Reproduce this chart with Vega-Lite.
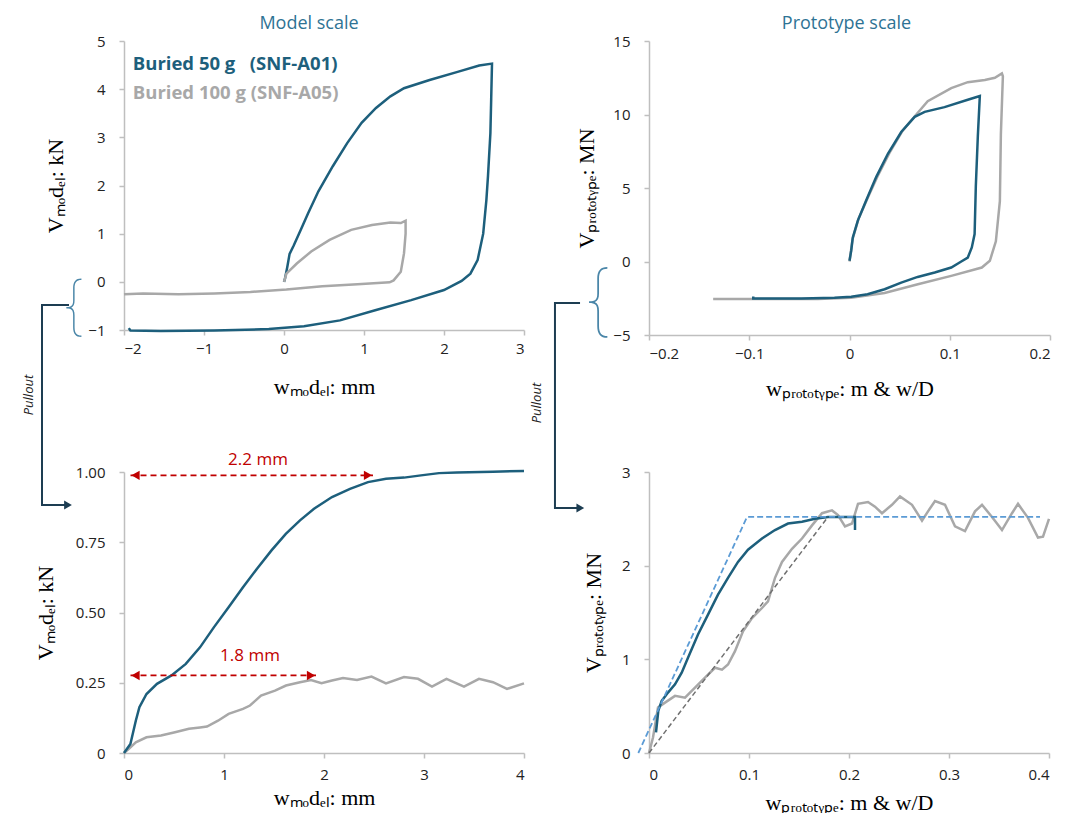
{
  "$schema": "https://vega.github.io/schema/vega-lite/v6.json",
  "background": "white",
  "padding": {"left": 22, "top": 15, "right": 0, "bottom": 0},
  "bounds": "flush",
  "columns": 2,
  "spacing": {"row": 137, "column": 125},
  "datasets": {
    "tl": [
      {"s":"A01","i":0,"x":0.00,"y":0.00},{"s":"A01","i":1,"x":0.01,"y":0.05},{"s":"A01","i":2,"x":0.04,"y":0.30},{"s":"A01","i":3,"x":0.07,"y":0.58},{"s":"A01","i":4,"x":0.12,"y":0.75},{"s":"A01","i":5,"x":0.21,"y":1.08},{"s":"A01","i":6,"x":0.30,"y":1.42},{"s":"A01","i":7,"x":0.43,"y":1.88},{"s":"A01","i":8,"x":0.61,"y":2.40},{"s":"A01","i":9,"x":0.79,"y":2.88},{"s":"A01","i":10,"x":0.97,"y":3.30},{"s":"A01","i":11,"x":1.15,"y":3.61},{"s":"A01","i":12,"x":1.33,"y":3.85},{"s":"A01","i":13,"x":1.50,"y":4.02},{"s":"A01","i":14,"x":1.82,"y":4.19},{"s":"A01","i":15,"x":2.17,"y":4.36},{"s":"A01","i":16,"x":2.44,"y":4.49},{"s":"A01","i":17,"x":2.60,"y":4.53},{"s":"A01","i":18,"x":2.59,"y":3.80},{"s":"A01","i":19,"x":2.58,"y":3.09},{"s":"A01","i":20,"x":2.55,"y":2.20},{"s":"A01","i":21,"x":2.53,"y":1.70},{"s":"A01","i":22,"x":2.49,"y":1.00},{"s":"A01","i":23,"x":2.42,"y":0.45},{"s":"A01","i":24,"x":2.33,"y":0.17},{"s":"A01","i":25,"x":2.22,"y":0.02},{"s":"A01","i":26,"x":2.00,"y":-0.17},{"s":"A01","i":27,"x":1.59,"y":-0.38},{"s":"A01","i":28,"x":1.14,"y":-0.59},{"s":"A01","i":29,"x":0.70,"y":-0.80},{"s":"A01","i":30,"x":0.25,"y":-0.92},{"s":"A01","i":31,"x":-0.19,"y":-0.98},{"s":"A01","i":32,"x":-0.87,"y":-1.01},{"s":"A01","i":33,"x":-1.54,"y":-1.02},{"s":"A01","i":34,"x":-1.92,"y":-1.01},{"s":"A01","i":35,"x":-1.94,"y":-0.96},
      {"s":"A05","i":0,"x":0.00,"y":0.00},{"s":"A05","i":1,"x":0.03,"y":0.17},{"s":"A05","i":2,"x":0.16,"y":0.38},{"s":"A05","i":3,"x":0.34,"y":0.63},{"s":"A05","i":4,"x":0.57,"y":0.87},{"s":"A05","i":5,"x":0.84,"y":1.08},{"s":"A05","i":6,"x":1.10,"y":1.18},{"s":"A05","i":7,"x":1.33,"y":1.23},{"s":"A05","i":8,"x":1.46,"y":1.22},{"s":"A05","i":9,"x":1.52,"y":1.27},{"s":"A05","i":10,"x":1.52,"y":1.00},{"s":"A05","i":11,"x":1.50,"y":0.59},{"s":"A05","i":12,"x":1.46,"y":0.21},{"s":"A05","i":13,"x":1.37,"y":0.03},{"s":"A05","i":14,"x":1.32,"y":-0.01},{"s":"A05","i":15,"x":0.92,"y":-0.05},{"s":"A05","i":16,"x":0.48,"y":-0.09},{"s":"A05","i":17,"x":0.03,"y":-0.16},{"s":"A05","i":18,"x":-0.42,"y":-0.21},{"s":"A05","i":19,"x":-0.87,"y":-0.24},{"s":"A05","i":20,"x":-1.32,"y":-0.26},{"s":"A05","i":21,"x":-1.76,"y":-0.24},{"s":"A05","i":22,"x":-2.00,"y":-0.26}
    ],
    "tr": [
      {"s":"A05","i":0,"x":0.000,"y":0.0},{"s":"A05","i":1,"x":0.003,"y":1.5},{"s":"A05","i":2,"x":0.009,"y":2.9},{"s":"A05","i":3,"x":0.018,"y":4.3},{"s":"A05","i":4,"x":0.028,"y":5.8},{"s":"A05","i":5,"x":0.040,"y":7.4},{"s":"A05","i":6,"x":0.053,"y":8.9},{"s":"A05","i":7,"x":0.066,"y":9.95},{"s":"A05","i":8,"x":0.078,"y":10.9},{"s":"A05","i":9,"x":0.1015,"y":11.8},{"s":"A05","i":10,"x":0.118,"y":12.2},{"s":"A05","i":11,"x":0.135,"y":12.35},{"s":"A05","i":12,"x":0.145,"y":12.5},{"s":"A05","i":13,"x":0.152,"y":12.8},{"s":"A05","i":14,"x":0.153,"y":12.6},{"s":"A05","i":15,"x":0.151,"y":8.66},{"s":"A05","i":16,"x":0.150,"y":4.1},{"s":"A05","i":17,"x":0.146,"y":1.37},{"s":"A05","i":18,"x":0.140,"y":0.05},{"s":"A05","i":19,"x":0.132,"y":-0.41},{"s":"A05","i":20,"x":0.1015,"y":-0.98},{"s":"A05","i":21,"x":0.0682,"y":-1.55},{"s":"A05","i":22,"x":0.035,"y":-2.14},{"s":"A05","i":23,"x":0.0017,"y":-2.46},{"s":"A05","i":24,"x":-0.0316,"y":-2.55},{"s":"A05","i":25,"x":-0.065,"y":-2.55},{"s":"A05","i":26,"x":-0.100,"y":-2.55},{"s":"A05","i":27,"x":-0.136,"y":-2.55},
      {"s":"A01","i":0,"x":0.000,"y":0.05},{"s":"A01","i":1,"x":0.0017,"y":0.73},{"s":"A01","i":2,"x":0.0033,"y":1.64},{"s":"A01","i":3,"x":0.0083,"y":2.78},{"s":"A01","i":4,"x":0.0166,"y":4.15},{"s":"A01","i":5,"x":0.0266,"y":5.74},{"s":"A01","i":6,"x":0.0383,"y":7.33},{"s":"A01","i":7,"x":0.0516,"y":8.81},{"s":"A01","i":8,"x":0.065,"y":9.84},{"s":"A01","i":9,"x":0.075,"y":10.18},{"s":"A01","i":10,"x":0.0948,"y":10.5},{"s":"A01","i":11,"x":0.118,"y":11.0},{"s":"A01","i":12,"x":0.130,"y":11.26},{"s":"A01","i":13,"x":0.128,"y":8.5},{"s":"A01","i":14,"x":0.126,"y":5.1},{"s":"A01","i":15,"x":0.1248,"y":1.87},{"s":"A01","i":16,"x":0.122,"y":0.96},{"s":"A01","i":17,"x":0.118,"y":0.27},{"s":"A01","i":18,"x":0.1115,"y":0.0},{"s":"A01","i":19,"x":0.1015,"y":-0.41},{"s":"A01","i":20,"x":0.085,"y":-0.75},{"s":"A01","i":21,"x":0.068,"y":-1.05},{"s":"A01","i":22,"x":0.0516,"y":-1.44},{"s":"A01","i":23,"x":0.035,"y":-1.89},{"s":"A01","i":24,"x":0.018,"y":-2.23},{"s":"A01","i":25,"x":0.0017,"y":-2.39},{"s":"A01","i":26,"x":-0.015,"y":-2.46},{"s":"A01","i":27,"x":-0.048,"y":-2.51},{"s":"A01","i":28,"x":-0.081,"y":-2.51},{"s":"A01","i":29,"x":-0.096,"y":-2.51},{"s":"A01","i":30,"x":-0.096,"y":-2.38}
    ],
    "bl": [
      {"s":"A05","i":0,"x":0.0,"y":0.0},{"s":"A05","i":1,"x":0.046,"y":0.014},{"s":"A05","i":2,"x":0.118,"y":0.038},{"s":"A05","i":3,"x":0.225,"y":0.056},{"s":"A05","i":4,"x":0.37,"y":0.062},{"s":"A05","i":5,"x":0.51,"y":0.074},{"s":"A05","i":6,"x":0.65,"y":0.086},{"s":"A05","i":7,"x":0.76,"y":0.091},{"s":"A05","i":8,"x":0.83,"y":0.094},{"s":"A05","i":9,"x":0.94,"y":0.115},{"s":"A05","i":10,"x":1.046,"y":0.139},{"s":"A05","i":11,"x":1.19,"y":0.157},{"s":"A05","i":12,"x":1.26,"y":0.169},{"s":"A05","i":13,"x":1.37,"y":0.204},{"s":"A05","i":14,"x":1.51,"y":0.222},{"s":"A05","i":15,"x":1.62,"y":0.24},{"s":"A05","i":16,"x":1.76,"y":0.252},{"s":"A05","i":17,"x":1.87,"y":0.26},{"s":"A05","i":18,"x":1.975,"y":0.248},{"s":"A05","i":19,"x":2.08,"y":0.258},{"s":"A05","i":20,"x":2.19,"y":0.267},{"s":"A05","i":21,"x":2.33,"y":0.26},{"s":"A05","i":22,"x":2.475,"y":0.272},{"s":"A05","i":23,"x":2.62,"y":0.248},{"s":"A05","i":24,"x":2.8,"y":0.27},{"s":"A05","i":25,"x":2.94,"y":0.264},{"s":"A05","i":26,"x":3.08,"y":0.236},{"s":"A05","i":27,"x":3.225,"y":0.264},{"s":"A05","i":28,"x":3.4,"y":0.236},{"s":"A05","i":29,"x":3.55,"y":0.264},{"s":"A05","i":30,"x":3.69,"y":0.252},{"s":"A05","i":31,"x":3.83,"y":0.228},{"s":"A05","i":32,"x":4.0,"y":0.248},
      {"s":"A01","i":0,"x":0.0,"y":0.0},{"s":"A01","i":1,"x":0.064,"y":0.032},{"s":"A01","i":2,"x":0.118,"y":0.115},{"s":"A01","i":3,"x":0.154,"y":0.163},{"s":"A01","i":4,"x":0.225,"y":0.21},{"s":"A01","i":5,"x":0.33,"y":0.246},{"s":"A01","i":6,"x":0.475,"y":0.276},{"s":"A01","i":7,"x":0.618,"y":0.317},{"s":"A01","i":8,"x":0.76,"y":0.376},{"s":"A01","i":9,"x":0.9,"y":0.448},{"s":"A01","i":10,"x":1.046,"y":0.519},{"s":"A01","i":11,"x":1.19,"y":0.59},{"s":"A01","i":12,"x":1.33,"y":0.656},{"s":"A01","i":13,"x":1.475,"y":0.721},{"s":"A01","i":14,"x":1.618,"y":0.78},{"s":"A01","i":15,"x":1.76,"y":0.828},{"s":"A01","i":16,"x":1.9,"y":0.869},{"s":"A01","i":17,"x":2.08,"y":0.911},{"s":"A01","i":18,"x":2.26,"y":0.94},{"s":"A01","i":19,"x":2.44,"y":0.964},{"s":"A01","i":20,"x":2.62,"y":0.976},{"s":"A01","i":21,"x":2.8,"y":0.98},{"s":"A01","i":22,"x":2.97,"y":0.988},{"s":"A01","i":23,"x":3.15,"y":0.996},{"s":"A01","i":24,"x":3.33,"y":0.998},{"s":"A01","i":25,"x":3.69,"y":1.001},{"s":"A01","i":26,"x":4.0,"y":1.004}
    ],
    "br": [
      {"s":"A05","i":0,"x":0.0,"y":0.0},{"s":"A05","i":1,"x":0.004,"y":0.166},{"s":"A05","i":2,"x":0.009,"y":0.485},{"s":"A05","i":3,"x":0.016,"y":0.538},{"s":"A05","i":4,"x":0.026,"y":0.61},{"s":"A05","i":5,"x":0.036,"y":0.59},{"s":"A05","i":6,"x":0.046,"y":0.698},{"s":"A05","i":7,"x":0.056,"y":0.804},{"s":"A05","i":8,"x":0.066,"y":0.91},{"s":"A05","i":9,"x":0.073,"y":0.89},{"s":"A05","i":10,"x":0.079,"y":0.945},{"s":"A05","i":11,"x":0.086,"y":1.087},{"s":"A05","i":12,"x":0.094,"y":1.3},{"s":"A05","i":13,"x":0.103,"y":1.44},{"s":"A05","i":14,"x":0.113,"y":1.548},{"s":"A05","i":15,"x":0.119,"y":1.62},{"s":"A05","i":16,"x":0.126,"y":1.87},{"s":"A05","i":17,"x":0.133,"y":2.04},{"s":"A05","i":18,"x":0.143,"y":2.18},{"s":"A05","i":19,"x":0.153,"y":2.29},{"s":"A05","i":20,"x":0.163,"y":2.43},{"s":"A05","i":21,"x":0.173,"y":2.56},{"s":"A05","i":22,"x":0.183,"y":2.59},{"s":"A05","i":23,"x":0.189,"y":2.54},{"s":"A05","i":24,"x":0.196,"y":2.42},{"s":"A05","i":25,"x":0.203,"y":2.45},{"s":"A05","i":26,"x":0.209,"y":2.66},{"s":"A05","i":27,"x":0.219,"y":2.68},{"s":"A05","i":28,"x":0.226,"y":2.63},{"s":"A05","i":29,"x":0.233,"y":2.56},{"s":"A05","i":30,"x":0.243,"y":2.65},{"s":"A05","i":31,"x":0.251,"y":2.74},{"s":"A05","i":32,"x":0.263,"y":2.65},{"s":"A05","i":33,"x":0.273,"y":2.48},{"s":"A05","i":34,"x":0.279,"y":2.58},{"s":"A05","i":35,"x":0.286,"y":2.69},{"s":"A05","i":36,"x":0.296,"y":2.65},{"s":"A05","i":37,"x":0.306,"y":2.42},{"s":"A05","i":38,"x":0.316,"y":2.37},{"s":"A05","i":39,"x":0.326,"y":2.58},{"s":"A05","i":40,"x":0.333,"y":2.65},{"s":"A05","i":41,"x":0.343,"y":2.52},{"s":"A05","i":42,"x":0.353,"y":2.38},{"s":"A05","i":43,"x":0.363,"y":2.56},{"s":"A05","i":44,"x":0.369,"y":2.66},{"s":"A05","i":45,"x":0.379,"y":2.51},{"s":"A05","i":46,"x":0.389,"y":2.3},{"s":"A05","i":47,"x":0.394,"y":2.31},{"s":"A05","i":48,"x":0.400,"y":2.5},
      {"s":"A01","i":0,"x":0.007,"y":0.22},{"s":"A01","i":1,"x":0.0093,"y":0.45},{"s":"A01","i":2,"x":0.0127,"y":0.556},{"s":"A01","i":3,"x":0.019,"y":0.645},{"s":"A01","i":4,"x":0.026,"y":0.733},{"s":"A01","i":5,"x":0.0327,"y":0.857},{"s":"A01","i":6,"x":0.039,"y":1.017},{"s":"A01","i":7,"x":0.049,"y":1.265},{"s":"A01","i":8,"x":0.059,"y":1.477},{"s":"A01","i":9,"x":0.069,"y":1.69},{"s":"A01","i":10,"x":0.079,"y":1.87},{"s":"A01","i":11,"x":0.089,"y":2.04},{"s":"A01","i":12,"x":0.099,"y":2.17},{"s":"A01","i":13,"x":0.113,"y":2.29},{"s":"A01","i":14,"x":0.126,"y":2.38},{"s":"A01","i":15,"x":0.139,"y":2.45},{"s":"A01","i":16,"x":0.153,"y":2.47},{"s":"A01","i":17,"x":0.166,"y":2.5},{"s":"A01","i":18,"x":0.179,"y":2.52},{"s":"A01","i":19,"x":0.206,"y":2.52},{"s":"A01","i":20,"x":0.206,"y":2.38}
    ]
  },
  "concat": [
    {
      "width": 400, "height": 289,
      "title": {"text": "Model scale", "anchor": "middle", "frame": "group", "dx": -15, "offset": 1, "color": "#2E7394", "font": "Open Sans", "fontSize": 18, "fontWeight": "normal"},
      "encoding": {
        "x": {"field": "x", "type": "quantitative", "scale": {"domain": [-2, 3], "nice": false, "zero": false},
              "axis": {"values": [-2, -1, 0, 1, 2, 3], "format": "d", "title": "wₘₒdₑₗ: mm", "labelPadding": 6, "titlePadding": 20}},
        "y": {"field": "y", "type": "quantitative", "scale": {"domain": [-1, 5], "nice": false, "zero": false},
              "axis": {"values": [-1, 0, 1, 2, 3, 4, 5], "format": "d", "title": "Vₘₒdₑₗ: kN", "labelPadding": 14, "titlePadding": 20}}
      },
      "layer": [
        {"data": {"name": "tl"}, "mark": {"type": "line", "strokeWidth": 2.5},
         "encoding": {"color": {"field": "s", "type": "nominal", "scale": {"domain": ["A01", "A05"], "range": ["#1D5F7C", "#A8A8A8"]}, "legend": null},
                      "order": {"field": "i", "type": "quantitative"}}},
        {"data": {"values": [{"i": 0, "x": -2.6875, "y": -0.481}, {"i": 1, "x": -3.025, "y": -0.481}, {"i": 2, "x": -3.025, "y": -4.633}, {"i": 3, "x": -2.72, "y": -4.633}]},
         "mark": {"type": "line", "color": "#1D3D52", "strokeWidth": 2},
         "encoding": {"order": {"field": "i", "type": "quantitative"}}},
        {"data": {"values": [{"x": -2.7, "y": -4.633}]},
         "mark": {"type": "point", "shape": "triangle-right", "filled": true, "size": 80, "color": "#1D3D52", "opacity": 1}},
        {"data": {"values": [{"x": -2.63, "y": -0.56, "t": "{"}]},
         "mark": {"type": "text", "font": "Inter", "fontWeight": 100, "fontSize": 64, "color": "#4A86A8", "baseline": "middle", "align": "center"},
         "encoding": {"text": {"field": "t"}}},
        {"data": {"values": [{"x": -3.19, "y": -2.35, "t": "Pullout"}]},
         "mark": {"type": "text", "angle": 270, "fontStyle": "italic", "font": "Open Sans", "fontSize": 13, "color": "#222222", "baseline": "middle", "align": "center"},
         "encoding": {"text": {"field": "t"}}},
        {"data": {"values": [{"x": -1.89, "y": 4.52, "s": "A01", "t": "Buried 50 g\u00a0\u00a0 (SNF-A01)"}, {"x": -1.89, "y": 3.92, "s": "A05", "t": "Buried 100 g (SNF-A05)"}]},
         "mark": {"type": "text", "font": "Open Sans", "fontSize": 18.5, "fontWeight": "bold", "align": "left", "baseline": "middle"},
         "encoding": {"text": {"field": "t"}, "color": {"field": "s", "type": "nominal", "scale": {"domain": ["A01", "A05"], "range": ["#1D5F7C", "#A8A8A8"]}, "legend": null}}}
      ]
    },
    {
      "width": 401, "height": 294,
      "title": {"text": "Prototype scale", "anchor": "middle", "frame": "group", "dx": -3, "offset": 1, "color": "#2E7394", "font": "Open Sans", "fontSize": 18, "fontWeight": "normal"},
      "encoding": {
        "x": {"field": "x", "type": "quantitative", "scale": {"domain": [-0.2, 0.2], "nice": false, "zero": false},
              "axis": {"values": [-0.2, -0.1, 0, 0.1, 0.2], "format": ".1~f", "title": "wₚᵣₒₜₒₜᵧₚₑ: m & w/D", "labelPadding": 6, "titlePadding": 17}},
        "y": {"field": "y", "type": "quantitative", "scale": {"domain": [-5, 15], "nice": false, "zero": false},
              "axis": {"values": [-5, 0, 5, 10, 15], "format": "d", "title": "Vₚᵣₒₜₒₜᵧₚₑ: MN", "labelPadding": 14, "titlePadding": 14}}
      },
      "layer": [
        {"data": {"name": "tr"}, "mark": {"type": "line", "strokeWidth": 2.5},
         "encoding": {"color": {"field": "s", "type": "nominal", "scale": {"domain": ["A01", "A05"], "range": ["#1D5F7C", "#A8A8A8"]}, "legend": null},
                      "order": {"field": "i", "type": "quantitative"}}},
        {"data": {"values": [{"i": 0, "x": -0.2688, "y": -2.82}, {"i": 1, "x": -0.2938, "y": -2.82}, {"i": 2, "x": -0.2938, "y": -16.77}, {"i": 3, "x": -0.2705, "y": -16.77}]},
         "mark": {"type": "line", "color": "#1D3D52", "strokeWidth": 2},
         "encoding": {"order": {"field": "i", "type": "quantitative"}}},
        {"data": {"values": [{"x": -0.2685, "y": -16.77}]},
         "mark": {"type": "point", "shape": "triangle-right", "filled": true, "size": 80, "color": "#1D3D52", "opacity": 1}},
        {"data": {"values": [{"x": -0.251, "y": -2.9, "t": "{"}]},
         "mark": {"type": "text", "font": "Inter", "fontWeight": 100, "fontSize": 78, "color": "#4A86A8", "baseline": "middle", "align": "center"},
         "encoding": {"text": {"field": "t"}}},
        {"data": {"values": [{"x": -0.3117, "y": -9.63, "t": "Pullout"}]},
         "mark": {"type": "text", "angle": 270, "fontStyle": "italic", "font": "Open Sans", "fontSize": 13, "color": "#222222", "baseline": "middle", "align": "center"},
         "encoding": {"text": {"field": "t"}}}
      ]
    },
    {
      "width": 400, "height": 281,
      "encoding": {
        "x": {"field": "x", "type": "quantitative", "scale": {"domain": [0, 4], "nice": false, "zero": false},
              "axis": {"values": [0, 1, 2, 3, 4], "format": "d", "title": "wₘₒdₑₗ: mm", "labelPadding": 9, "titlePadding": 5}},
        "y": {"field": "y", "type": "quantitative", "scale": {"domain": [0, 1], "nice": false, "zero": false},
              "axis": {"values": [0, 0.25, 0.5, 0.75, 1], "labelExpr": "datum.value == 0 ? '0' : format(datum.value, '.2f')", "title": "Vₘₒdₑₗ: kN", "labelPadding": 14, "titlePadding": 18}}
      },
      "layer": [
        {"data": {"name": "bl"}, "mark": {"type": "line", "strokeWidth": 2.5},
         "encoding": {"color": {"field": "s", "type": "nominal", "scale": {"domain": ["A01", "A05"], "range": ["#1D5F7C", "#A8A8A8"]}, "legend": null},
                      "order": {"field": "i", "type": "quantitative"}}},
        {"data": {"values": [{"x": 0.065, "x2": 2.49, "y": 0.988}, {"x": 0.065, "x2": 1.92, "y": 0.276}]},
         "mark": {"type": "rule", "color": "#C00000", "strokeWidth": 1.8, "strokeDash": [6, 4]},
         "encoding": {"x2": {"field": "x2"}}},
        {"data": {"values": [{"x": 0.115, "y": 0.988}, {"x": 0.115, "y": 0.276}]},
         "mark": {"type": "point", "shape": "triangle-left", "filled": true, "size": 90, "color": "#C00000", "opacity": 1}},
        {"data": {"values": [{"x": 2.44, "y": 0.988}, {"x": 1.87, "y": 0.276}]},
         "mark": {"type": "point", "shape": "triangle-right", "filled": true, "size": 90, "color": "#C00000", "opacity": 1}},
        {"data": {"values": [{"x": 1.34, "y": 1.043, "t": "2.2 mm"}, {"x": 1.26, "y": 0.346, "t": "1.8 mm"}]},
         "mark": {"type": "text", "font": "Open Sans", "fontSize": 17, "color": "#C00000", "baseline": "middle", "align": "center"},
         "encoding": {"text": {"field": "t"}}}
      ]
    },
    {
      "width": 400, "height": 281,
      "encoding": {
        "x": {"field": "x", "type": "quantitative", "scale": {"domain": [0, 0.4], "nice": false, "zero": false},
              "axis": {"values": [0, 0.1, 0.2, 0.3, 0.4], "labelExpr": "datum.value == 0 ? '0' : format(datum.value, '.1f')", "title": "wₚᵣₒₜₒₜᵧₚₑ: m & w/D", "labelPadding": 9, "titlePadding": 10}},
        "y": {"field": "y", "type": "quantitative", "scale": {"domain": [0, 3], "nice": false, "zero": false},
              "axis": {"values": [0, 1, 2, 3], "format": "d", "title": "Vₚᵣₒₜₒₜᵧₚₑ: MN", "labelPadding": 14, "titlePadding": 16}}
      },
      "layer": [
        {"data": {"name": "br"}, "mark": {"type": "line", "strokeWidth": 2.5},
         "encoding": {"color": {"field": "s", "type": "nominal", "scale": {"domain": ["A01", "A05"], "range": ["#1D5F7C", "#A8A8A8"]}, "legend": null},
                      "order": {"field": "i", "type": "quantitative"}}},
        {"data": {"values": [{"i": 0, "x": -0.0107, "y": 0}, {"i": 1, "x": 0.098, "y": 2.52}, {"i": 2, "x": 0.391, "y": 2.52}]},
         "mark": {"type": "line", "color": "#5B9BD5", "strokeWidth": 1.8, "strokeDash": [6, 3]},
         "encoding": {"order": {"field": "i", "type": "quantitative"}}},
        {"data": {"values": [{"i": 0, "x": 0, "y": 0}, {"i": 1, "x": 0.179, "y": 2.52}]},
         "mark": {"type": "line", "color": "#6F6F6F", "strokeWidth": 1.5, "strokeDash": [5, 3]},
         "encoding": {"order": {"field": "i", "type": "quantitative"}}}
      ]
    }
  ],
  "config": {
    "view": {"stroke": null},
    "font": "Open Sans",
    "axis": {
      "grid": false,
      "domainColor": "#BFBFBF", "domainWidth": 1.5,
      "tickColor": "#BFBFBF", "tickWidth": 1.5, "tickSize": 5,
      "labelFont": "Open Sans", "labelFontSize": 15, "labelColor": "#222222",
      "titleFont": "Liberation Serif", "titleFontSize": 22, "titleFontWeight": "normal", "titleColor": "#000000"
    }
  }
}
